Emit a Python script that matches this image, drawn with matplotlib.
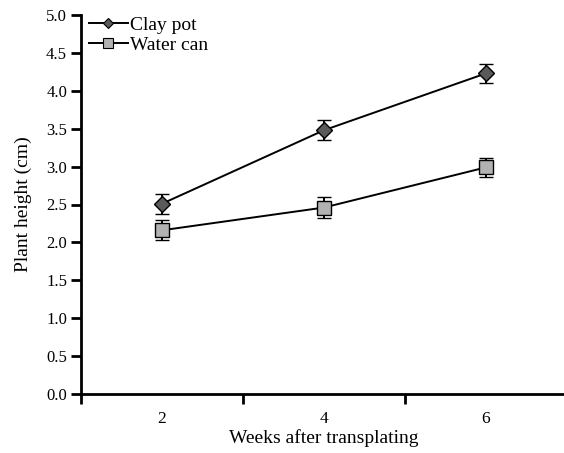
import numpy as np
import matplotlib.pyplot as plt
from matplotlib.lines import Line2D

weeks = ["2", "4", "6"]
clay_pot = [2.51, 3.48, 4.23]
clay_pot_err = [0.13, 0.13, 0.13]
water_can = [2.16, 2.46, 2.99]
water_can_err = [0.13, 0.14, 0.13]

plt.rcParams["font.family"] = ["Liberation Serif", "DejaVu Serif"]

fig = plt.figure(figsize=(5.64, 4.53), dpi=100)
ax = fig.add_axes([81 / 564, 1 - 394 / 453, 486 / 564, 379 / 453])

x = np.arange(1, len(weeks) + 1)

ax.errorbar(x, clay_pot, yerr=clay_pot_err, color="black", lw=1.4,
            marker="D", ms=8, mfc="#5a5a5a", mec="black", mew=1.0,
            ecolor="black", elinewidth=1.4, capsize=5, capthick=1.6)
ax.errorbar(x, water_can, yerr=water_can_err, color="black", lw=1.4,
            marker="s", ms=9.5, mfc="#b2b2b2", mec="black", mew=1.0,
            ecolor="black", elinewidth=1.4, capsize=5, capthick=1.6)

ax.set_xlim(0.5, 3.5)
ax.set_ylim(0, 5)
yt = np.arange(0, 5.01, 0.5)
ax.set_yticks(yt)
ax.set_yticklabels([f"{v:.1f}" for v in yt])

# category boundaries as major ticks, labels sit on minor ticks
ax.set_xticks([0.5, 1.5, 2.5, 3.5])
ax.set_xticklabels([])
ax.set_xticks(x, minor=True)
ax.set_xticklabels(weeks, minor=True)
ax.tick_params(axis="x", which="major", direction="out", length=7, width=2)
ax.tick_params(axis="x", which="minor", length=0, pad=12, labelsize=12.5)
ax.tick_params(axis="y", direction="out", length=7, width=2, pad=3, labelsize=12)

for s in ["top", "right"]:
    ax.spines[s].set_visible(False)
for s in ["left", "bottom"]:
    ax.spines[s].set_linewidth(2)

ax.set_xlabel("Weeks after transplating", fontsize=14, labelpad=2)
ax.set_ylabel("Plant height (cm)", fontsize=14, labelpad=10)

handles = [
    Line2D([], [], color="black", lw=1.4, marker="D", ms=5,
           mfc="#5a5a5a", mec="black", mew=0.8),
    Line2D([], [], color="black", lw=1.4, marker="s", ms=6.5,
           mfc="#b2b2b2", mec="black", mew=0.8),
]
ax.legend(handles, ["Clay pot", "Water can"], loc="upper left", frameon=False,
          fontsize=14, handlelength=2.0, handletextpad=0.1, borderaxespad=0.0,
          labelspacing=0.15, bbox_to_anchor=(0.0, 1.018))

fig.savefig("out.png", dpi=100)
